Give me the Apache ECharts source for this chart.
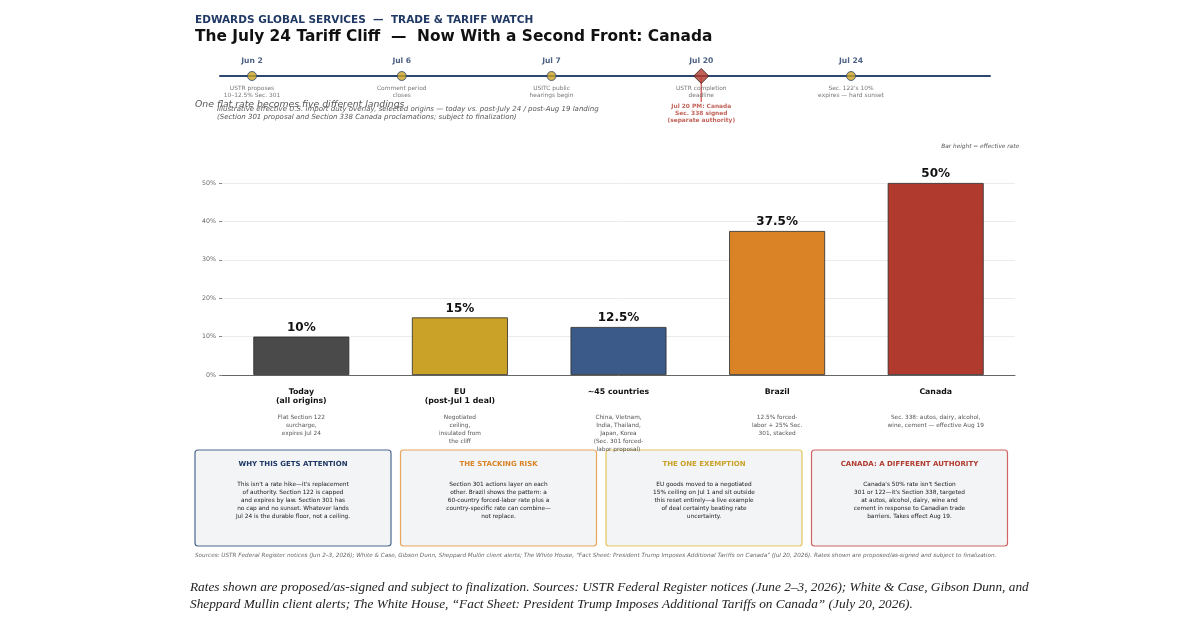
<!DOCTYPE html>
<html><head><meta charset="utf-8">
<script src="https://cdn.jsdelivr.net/npm/echarts@6/dist/echarts.min.js"></script>
<style>html,body{margin:0;padding:0;background:#fff}#c{width:1200px;height:630px}</style>
</head><body><div id="c"></div>
<script>
// ---------- DATA ----------
const categories = ['Today\n(all origins)', 'EU\n(post-Jul 1 deal)', '~45 countries', 'Brazil', 'Canada'];
const rates = [10, 15, 12.5, 37.5, 50];
const rateLabels = ['10%', '15%', '12.5%', '37.5%', '50%'];
const categoryNotes = [
  'Flat Section 122\nsurcharge,\nexpires Jul 24',
  'Negotiated\nceiling,\ninsulated from\nthe cliff',
  'China, Vietnam,\nIndia, Thailand,\nJapan, Korea\n(Sec. 301 forced-\nlabor proposal)',
  '12.5% forced-\nlabor + 25% Sec.\n301, stacked',
  'Sec. 338: autos, dairy, alcohol,\nwine, cement — effective Aug 19'
];
const barColors = ['#4a4a4a', '#c9a227', '#3b5a8a', '#d98326', '#b03a2e'];
const yTickValues = [0, 10, 20, 30, 40, 50];

const timelineDates = ['Jun 2', 'Jul 6', 'Jul 7', 'Jul 20', 'Jul 24'];
const timelineEvents = [
  'USTR proposes\n10–12.5% Sec. 301',
  'Comment period\ncloses',
  'USITC public\nhearings begin',
  'USTR completion\ndeadline',
  "Sec. 122's 10%\nexpires — hard sunset"
];
const timelineAlertIndex = 3;
const timelineAlert = 'Jul 20 PM: Canada\nSec. 338 signed\n(separate authority)';

const panelTitles = ['WHY THIS GETS ATTENTION', 'THE STACKING RISK', 'THE ONE EXEMPTION', 'CANADA: A DIFFERENT AUTHORITY'];
const panelBodies = [
  "This isn't a rate hike—it's replacement\nof authority. Section 122 is capped\nand expires by law. Section 301 has\nno cap and no sunset. Whatever lands\nJul 24 is the durable floor, not a ceiling.",
  'Section 301 actions layer on each\nother. Brazil shows the pattern: a\n60-country forced-labor rate plus a\ncountry-specific rate can combine—\nnot replace.',
  'EU goods moved to a negotiated\n15% ceiling on Jul 1 and sit outside\nthis reset entirely—a live example\nof deal certainty beating rate\nuncertainty.',
  "Canada's 50% rate isn't Section\n301 or 122—it's Section 338, targeted\nat autos, alcohol, dairy, wine and\ncement in response to Canadian trade\nbarriers. Takes effect Aug 19."
];
const panelTitleColors = ['#1f3864', '#d98326', '#c9a227', '#b03a2e'];
const panelBorderColors = ['#4d6690', '#e8a55c', '#e3c55e', '#d06464'];

const headerKicker = 'EDWARDS GLOBAL SERVICES  —  TRADE & TARIFF WATCH';
const headerTitle = 'The July 24 Tariff Cliff  —  Now With a Second Front: Canada';
const subtitleMain = 'One flat rate becomes five different landings';
const subtitleNote1 = 'Illustrative effective U.S. import duty overlay, selected origins — today vs. post-July 24 / post-Aug 19 landing';
const subtitleNote2 = '(Section 301 proposal and Section 338 Canada proclamations; subject to finalization)';
const axisNote = 'Bar height = effective rate';
const sourcesLine = 'Sources: USTR Federal Register notices (Jun 2–3, 2026); White & Case, Gibson Dunn, Sheppard Mullin client alerts; The White House, “Fact Sheet: President Trump Imposes Additional Tariffs on Canada” (Jul 20, 2026). Rates shown are proposed/as-signed and subject to finalization.';
const captionLines = [
  'Rates shown are proposed/as-signed and subject to finalization. Sources: USTR Federal Register notices (June 2–3, 2026); White & Case, Gibson Dunn, and',
  'Sheppard Mullin client alerts; The White House, “Fact Sheet: President Trump Imposes Additional Tariffs on Canada” (July 20, 2026).'
];

// ---------- CHART ----------
const FONT = 'DejaVu Sans';
const chart = echarts.init(document.getElementById('c'), null, { renderer: 'canvas' });

const tlIdx = timelineDates.map((d, i) => i);

function txt(text, x, y, opts) {
  return {
    type: 'text', x: x, y: y, silent: true,
    style: Object.assign({ text: text, fontFamily: FONT, fill: '#333', textVerticalAlign: 'middle' }, opts || {})
  };
}

const graphics = [];
graphics.push(txt(headerKicker, 195, 20, { fontSize: 10.5, fontWeight: 'bold', fill: '#1f3864' }));
graphics.push(txt(headerTitle, 195, 36.5, { fontSize: 15.4, fontWeight: 'bold', fill: '#111' }));
graphics.push(txt(subtitleMain, 195, 104.5, { fontSize: 9.3, fontStyle: 'italic', fill: '#555' }));
graphics.push(txt(subtitleNote1, 217, 109.5, { fontSize: 7, fontStyle: 'italic', fill: '#555' }));
graphics.push(txt(subtitleNote2, 217, 117.5, { fontSize: 7, fontStyle: 'italic', fill: '#555' }));
graphics.push(txt(axisNote, 1019, 146, { fontSize: 5.8, fontStyle: 'italic', fill: '#555', textAlign: 'right' }));

const panelX0 = 195, panelW = 196, panelGap = 9.5, panelY = 450, panelH = 96;
panelTitles.forEach((t, i) => {
  const x = panelX0 + i * (panelW + panelGap);
  graphics.push({
    type: 'rect', silent: true,
    shape: { x: x, y: panelY, width: panelW, height: panelH, r: 3 },
    style: { fill: '#f3f4f6', stroke: panelBorderColors[i], lineWidth: 1.2 }
  });
  graphics.push(txt(t, x + panelW / 2, 464, { fontSize: 7, fontWeight: 'bold', fill: panelTitleColors[i], textAlign: 'center' }));
  graphics.push({
    type: 'text', silent: true, x: x + panelW / 2, y: 480,
    style: { text: panelBodies[i], fontFamily: FONT, fontSize: 5.8, fill: '#1a1a1a', textAlign: 'center', textVerticalAlign: 'top', lineHeight: 8 }
  });
});
graphics.push(txt(sourcesLine, 195, 556, { fontSize: 5.7, fontStyle: 'italic', fill: '#666' }));
captionLines.forEach((l, i) => {
  graphics.push(txt(l, 190, 588 + i * 17, { fontSize: 13.3, fontStyle: 'italic', fontFamily: 'Liberation Serif', fill: '#222' }));
});

const option = {
  animation: false,
  backgroundColor: '#ffffff',
  grid: [
    { left: 220, width: 770, top: 50, height: 52 },
    { left: 222, right: 185, top: 183, bottom: 255 }
  ],
  xAxis: [
    {
      gridIndex: 0, type: 'value', min: -0.2137, max: 4.928,
      axisLine: { show: true, onZero: true, lineStyle: { color: '#2c4770', width: 2 } },
      axisTick: { show: false }, axisLabel: { show: false }, splitLine: { show: false }
    },
    {
      gridIndex: 1, type: 'category', data: categories,
      axisLine: { show: true, lineStyle: { color: '#666', width: 1 } },
      axisTick: { show: false },
      axisLabel: {
        margin: 12, interval: 0,
        formatter: function (v, i) {
          const lines = v.split('\n');
          while (lines.length < 2) lines.push(' ');
          const name = lines.map(l => '{n|' + l + '}').join('\n');
          const note = categoryNotes[i].split('\n').map(l => '{d|' + l + '}').join('\n');
          return name + '\n{s| }\n' + note;
        },
        rich: {
          n: { fontFamily: FONT, fontSize: 7.8, fontWeight: 'bold', color: '#111', lineHeight: 9, align: 'center' },
          s: { fontSize: 2, lineHeight: 8 },
          d: { fontFamily: FONT, fontSize: 5.8, color: '#555', lineHeight: 8, align: 'center' }
        }
      }
    }
  ],
  yAxis: [
    { gridIndex: 0, type: 'value', min: -1, max: 1, show: false },
    {
      gridIndex: 1, type: 'value', min: yTickValues[0], max: yTickValues[yTickValues.length - 1],
      interval: yTickValues[1] - yTickValues[0],
      axisLine: { show: false },
      axisTick: { show: true, length: 3, lineStyle: { color: '#888' } },
      axisLabel: { formatter: '{value}%', fontFamily: FONT, fontSize: 6.3, color: '#666', margin: 6 },
      splitLine: { show: true, lineStyle: { color: '#ebebeb', width: 1 } }
    }
  ],
  series: [
    {
      type: 'line', xAxisIndex: 0, yAxisIndex: 0, z: 1,
      data: [[tlIdx[timelineAlertIndex], 0], [tlIdx[timelineAlertIndex], -1]],
      symbol: 'none', lineStyle: { color: '#d9706a', width: 1.5 }, silent: true
    },
    {
      type: 'scatter', xAxisIndex: 0, yAxisIndex: 0, z: 5,
      data: tlIdx.map(i => i === timelineAlertIndex
        ? { value: [i, 0], symbol: 'diamond', symbolSize: [15, 15], itemStyle: { color: '#b03a2e', borderColor: '#3a1a1a', borderWidth: 1 } }
        : { value: [i, 0], symbol: 'circle', symbolSize: 9, itemStyle: { color: '#c9a227', borderColor: '#2c4770', borderWidth: 1 } }),
      silent: true
    },
    {
      type: 'scatter', xAxisIndex: 0, yAxisIndex: 0, z: 6,
      data: tlIdx.map(i => [i, 0]), symbolSize: 1, itemStyle: { color: 'transparent' },
      label: {
        show: true, position: 'top', distance: 10,
        formatter: p => timelineDates[p.dataIndex],
        fontFamily: FONT, fontSize: 7.6, fontWeight: 'bold', color: '#1f3864'
      }, silent: true
    },
    {
      type: 'scatter', xAxisIndex: 0, yAxisIndex: 0, z: 6,
      data: tlIdx.map(i => [i, 0]), symbolSize: 1, itemStyle: { color: 'transparent' },
      label: {
        show: true, position: 'bottom', distance: 8, align: 'center',
        formatter: p => timelineEvents[p.dataIndex],
        fontFamily: FONT, fontSize: 5.9, color: '#555', lineHeight: 7.2
      }, silent: true
    },
    {
      type: 'scatter', xAxisIndex: 0, yAxisIndex: 0, z: 6,
      data: [[tlIdx[timelineAlertIndex], 0]], symbolSize: 1, itemStyle: { color: 'transparent' },
      label: {
        show: true, position: 'bottom', distance: 26, align: 'center',
        formatter: () => timelineAlert,
        fontFamily: FONT, fontSize: 5.9, fontWeight: 'bold', color: '#b03a2e', lineHeight: 7.2
      }, silent: true
    },
    {
      type: 'bar', xAxisIndex: 1, yAxisIndex: 1, barWidth: '60.5%',
      data: rates.map((v, i) => ({ value: v, itemStyle: { color: barColors[i] } })),
      itemStyle: { borderColor: '#2a2a2a', borderWidth: 0.8 },
      label: {
        show: true, position: 'top', distance: 3,
        formatter: p => rateLabels[p.dataIndex],
        fontFamily: FONT, fontSize: 12, fontWeight: 'bold', color: '#111'
      }
    }
  ],
  graphic: { elements: graphics }
};
chart.setOption(option);
</script></body></html>
